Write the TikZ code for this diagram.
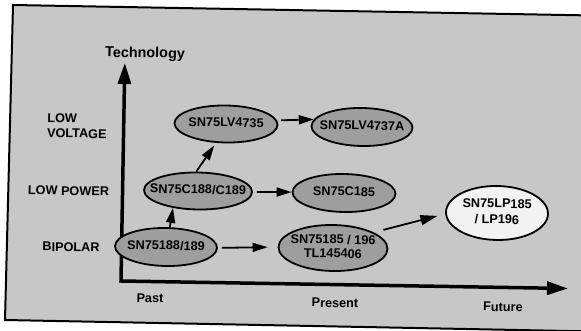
\documentclass[tikz,border=0pt]{standalone}
\usepackage{fontspec}
\setmainfont{Liberation Sans}
\usetikzlibrary{arrows.meta,shapes.geometric}
\definecolor{bgc}{gray}{0.78}
\definecolor{ovc}{gray}{0.62}
\definecolor{ovw}{gray}{0.95}
\newcommand\ovtext[1]{\makebox[0pt]{\begin{tabular}{@{}c@{}}#1\end{tabular}}}
\begin{document}
\begin{tikzpicture}[x=1pt,y=-1pt,
  lab/.style={font=\bfseries\fontsize{12.7}{15}\selectfont, rotate=-1, inner sep=0pt},
  ov/.style={ellipse, draw, line width=1.8pt, fill=ovc, inner sep=0pt, rotate=-1,
    font=\bfseries\fontsize{12.7}{14}\selectfont},
  arr/.style={line width=1.8pt, -{Triangle[length=15pt,width=9pt]}},
  axis/.style={line width=3.5pt, line join=miter,
    {Triangle[length=21pt,width=13pt]}-{Triangle[length=21pt,width=13pt]}}]

\useasboundingbox (0,0) rectangle (581,331);
\begin{scope}
  \clip (0,0) rectangle (581,331);
  \draw[line width=2pt, fill=bgc] (13,5) -- (620,16) -- (620,332) -- (5,320) -- cycle;
\end{scope}

% axes
\coordinate (O) at (121,281);
\coordinate (yt) at (124.8,63);
\coordinate (xt) at (568,288.5);
\draw[axis] (yt) -- (O) -- (xt);

% axis labels
\node[lab, font=\bfseries\fontsize{14.4}{16}\selectfont] (tech) at (145,54) {Technology};
\node[lab, align=left] (lv) at (77,126) {LOW\\VOLTAGE};
\node[lab] (lp) at (68.5,191) {LOW POWER};
\node[lab] (bp) at (71,247) {BIPOLAR};
\node[lab] (past) at (150,298) {Past};
\node[lab] (pres) at (335,303) {Present};
\node[lab] (fut) at (503,307) {Future};

% ellipses
\node[ov, minimum width=102pt, minimum height=38pt] (A) at (166,247) {\ovtext{SN75188/189}};
\node[ov, minimum width=108pt, minimum height=37pt] (B) at (198,191) {\ovtext{SN75C188/C189}};
\node[ov, minimum width=103pt, minimum height=37pt] (C) at (226,124) {\ovtext{SN75LV4735}};
\node[ov, minimum width=101pt, minimum height=38pt] (D) at (362,127) {\ovtext{SN75LV4737A}};
\node[ov, minimum width=103pt, minimum height=38pt] (E) at (344,193) {\ovtext{SN75C185}};
\node[ov, minimum width=109pt, minimum height=46pt] (F) at (333,248) {\ovtext{SN75185 / 196\\TL145406}};
\node[ov, fill=ovw, minimum width=102pt, minimum height=54pt] (G) at (497,213) {\ovtext{SN75LP185\\[2pt]/ LP196}};

% connectors
\draw[arr] (A.80) -- (B.215);
\draw[arr, shorten >=3pt] (B.96) -- (C.243);
\draw[arr, shorten <=4pt] (C.5) -- (D.172);
\draw[arr, shorten <=4pt] (B.east) -- (E.west);
\draw[arr, shorten <=4pt, shorten >=10pt] (A.east) -- (F.west);
\draw[arr, shorten <=10pt, shorten >=8pt, -{Triangle[length=17pt,width=10pt]}] (F.22) -- (G.182);
\end{tikzpicture}
\end{document}
